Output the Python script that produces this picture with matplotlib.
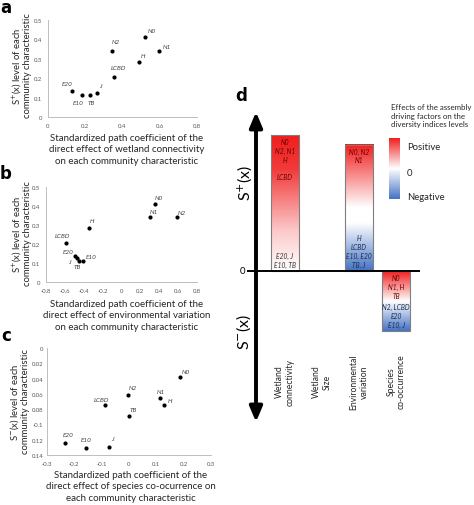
import numpy as np
import matplotlib
matplotlib.use("Agg")
import matplotlib.pyplot as plt
from matplotlib.colors import LinearSegmentedColormap

plt.rcParams['font.family'] = ['Lato', 'DejaVu Sans']

# ---------------- data ----------------
labels = ['N0', 'N1', 'N2', 'H', 'LCBD', 'E20', 'E10', 'TB', 'J']
s_plus = [0.413, 0.342, 0.341, 0.286, 0.207, 0.135, 0.113, 0.113, 0.124]
conn_coef = [0.521, 0.596, 0.344, 0.489, 0.354, 0.129, 0.183, 0.226, 0.263]
envvar_coef = [0.36, 0.30, 0.59, -0.34, -0.59, -0.49, -0.41, -0.455, -0.475]
s_minus = [0.038, 0.066, 0.061, 0.075, 0.075, 0.124, 0.131, 0.089, 0.129]
cooc_coef = [0.185, 0.113, -0.004, 0.129, -0.088, -0.234, -0.156, 0.0, -0.073]

ab_xticks = [0, 0.2, 0.4, 0.6, 0.8]
b_xticks = [-0.8, -0.6, -0.4, -0.2, 0, 0.2, 0.4, 0.6, 0.8]
ab_yticks = [0, 0.1, 0.2, 0.3, 0.4, 0.5]
c_xticks = [-0.3, -0.2, -0.1, 0, 0.1, 0.2, 0.3]
c_yticks = [0, 0.02, 0.04, 0.06, 0.08, 0.10, 0.12, 0.14]
c_yticklabels = ['0', '0.02', '0.04', '0.06', '0.08', '-0.1', '0.12', '0.14']

d_categories = ['Wetland\nconnectivity', 'Wetland\nSize', 'Environmental\nvariation', 'Species\nco-occurrence']
d_values = [1.0, 0.0, 0.93, -0.44]
d_top_text = ['N0\nN2, N1\nH\n\nLCBD', '', 'N0, N2\nN1', 'N0\nN1, H\nTB']
d_bottom_text = ['E20, J\nE10, TB', '', 'H\nLCBD\nE10, E20\nTB, J', 'N2, LCBD\nE20\nE10, J']

# --------------- layout helpers ---------------
W, H = 474, 506
fig = plt.figure(figsize=(W / 100, H / 100), dpi=100)


def fbox(l, t, r, b):
    return [l / W, 1 - b / H, (r - l) / W, (b - t) / H]


def fx(px):
    return px / W


def fy(py):
    return 1 - py / H


def fmt(v):
    if abs(v) < 1e-9:
        return '0'
    return ('%g' % v)


off_a = {'N0': (7, -6), 'N1': (8, -4), 'N2': (4, -9), 'H': (4, -6), 'LCBD': (4, -9),
         'E20': (-5, -7), 'E10': (-4, 7), 'TB': (1, 7), 'J': (3, -7)}
off_b = {'N0': (3, -6), 'N1': (4, -6), 'N2': (5, -5), 'H': (3, -7), 'LCBD': (-3, -7),
         'E20': (-7, -5), 'E10': (8, -4), 'TB': (-1, 6), 'J': (-7, 3)}
off_c = {'N0': (6, -6), 'N1': (1, -7), 'N2': (5, -7), 'H': (6, -5), 'LCBD': (-4, -6),
         'E20': (3, -8), 'E10': (0, -9), 'TB': (4, -7), 'J': (3, -8)}

tick_color = '#595959'
spine_color = '#bfbfbf'


def scatter_panel(box, xs, ys, offs, xticks, xlim, yticks, yticklabels, ylim, ypad=4):
    ax = fig.add_axes(fbox(*box))
    ax.scatter(xs, ys, s=9, color='black', zorder=3, linewidths=0)
    for lab, x, y in zip(labels, xs, ys):
        dx, dy = offs[lab]
        ax.annotate(lab, (x, y), xytext=(dx * 0.72, -dy * 0.72), textcoords='offset points',
                    ha='center', va='center', fontsize=4.6, style='italic', color='#404040')
    ax.set_xlim(*xlim)
    ax.set_ylim(*ylim)
    ax.set_xticks(xticks)
    ax.set_xticklabels([fmt(v) for v in xticks])
    ax.set_yticks(yticks)
    ax.set_yticklabels(yticklabels)
    ax.tick_params(length=0, labelsize=4.3, colors=tick_color, pad=4)
    ax.tick_params(axis='y', pad=ypad)
    for s in ['top', 'right']:
        ax.spines[s].set_visible(False)
    for s in ['left', 'bottom']:
        ax.spines[s].set_color(spine_color)
        ax.spines[s].set_linewidth(0.7)
    ax.patch.set_alpha(0)
    return ax


scatter_panel((48, 21, 197, 118), conn_coef, s_plus, off_a, ab_xticks, (0, 0.8),
              ab_yticks, [fmt(v) for v in ab_yticks], (0, 0.5))
scatter_panel((46, 188, 197, 283), envvar_coef, s_plus, off_b, b_xticks, (-0.8, 0.8),
              ab_yticks, [fmt(v) for v in ab_yticks], (0, 0.5))
scatter_panel((47, 349, 211, 456), cooc_coef, s_minus, off_c, c_xticks, (-0.3, 0.3),
              c_yticks, c_yticklabels, (0.14, 0), ypad=2.5)

lab_fs = 7
# y labels
fig.text(fx(21), fy(66), 'S$^{+}$(x) level of each\ncommunity characteristic', rotation=90,
         ha='center', va='center', fontsize=6.8, color='#262626', linespacing=1.0)
fig.text(fx(21), fy(234), 'S$^{+}$(x) level of each\ncommunity characteristic', rotation=90,
         ha='center', va='center', fontsize=6.8, color='#262626', linespacing=1.0)
fig.text(fx(19), fy(402), 'S$^{-}$(x) level of each\ncommunity characteristic', rotation=90,
         ha='center', va='center', fontsize=6.8, color='#262626', linespacing=1.0)
# x labels
fig.text(fx(127), fy(150), 'Standardized path coefficient of the\ndirect effect of wetland connectivity\non each community characteristic',
         ha='center', va='center', fontsize=lab_fs, color='#262626', linespacing=1.3)
fig.text(fx(127), fy(316), 'Standardized path coefficient of the\ndirect effect of environmental variation\non each community characteristic',
         ha='center', va='center', fontsize=lab_fs, color='#262626', linespacing=1.3)
fig.text(fx(131), fy(487), 'Standardized path coefficient of the\ndirect effect of species co-ocurrence on\neach community characteristic',
         ha='center', va='center', fontsize=lab_fs, color='#262626', linespacing=1.3)

# panel letters
for letter, (px, py) in zip('abcd', [(6, 8), (6, 174), (6, 336), (241, 96)]):
    fig.text(fx(px), fy(py), letter, ha='center', va='center', fontsize=12, fontweight='bold',
             family='DejaVu Sans')

# ---------------- panel d ----------------
axd = fig.add_axes(fbox(230, 80, 474, 506))
axd.axis('off')
x0px, step_px, zero_px, unit_px = 285, 37, 272, 136
axd.set_xlim((230 - x0px) / step_px, (474 - x0px) / step_px)
axd.set_ylim(-(506 - zero_px) / unit_px, (zero_px - 80) / unit_px)

red = '#f01e1e'
white = '#ffffff'
blue = '#4472c4'
cmaps = [
    LinearSegmentedColormap.from_list('c0', [(0, white), (0.3, '#fbc8c8'), (0.75, '#f23a3a'), (1, red)]),
    None,
    LinearSegmentedColormap.from_list('c2', [(0, blue), (0.38, white), (0.5, white), (1, red)]),
    LinearSegmentedColormap.from_list('c3', [(0, blue), (0.5, white), (1, red)]),
]
bar_w = 0.78
grad = np.linspace(0, 1, 256).reshape(-1, 1)
for i, (v, cm) in enumerate(zip(d_values, cmaps)):
    if v == 0:
        continue
    lo, hi = min(0, v), max(0, v)
    axd.imshow(grad, extent=[i - bar_w / 2, i + bar_w / 2, lo, hi], origin='lower',
               cmap=cm, aspect='auto', interpolation='bicubic', zorder=1)
    axd.bar(i, v, width=bar_w, fill=False, edgecolor='#7f7f7f', linewidth=0.8, zorder=2)
    top_col = '#6b0000'
    bot_col = '#333333' if i == 0 else '#1c2b4d'
    axd.annotate(d_top_text[i], (i, hi), xytext=(0, -2.2), textcoords='offset points',
                 ha='center', va='top', fontsize=4.8, style='italic', color=top_col,
                 linespacing=1.3, zorder=3)
    axd.annotate(d_bottom_text[i], (i, lo), xytext=(0, 2.2), textcoords='offset points',
                 ha='center', va='bottom', fontsize=4.8, style='italic', color=bot_col,
                 linespacing=1.3, zorder=3)

axd.set_autoscale_on(False)
# zero line
axd.plot([(247 - x0px) / step_px, (420 - x0px) / step_px], [0, 0], color='black', lw=1.4, zorder=4,
         solid_capstyle='butt')
# double arrow
ax_x = (256 - x0px) / step_px
axd.annotate('', xy=(ax_x, (zero_px - 113) / unit_px), xytext=(ax_x, -(423 - zero_px) / unit_px),
             arrowprops=dict(arrowstyle='<|-|>,head_length=0.9,head_width=0.38', lw=2.8,
                             color='black', mutation_scale=10, shrinkA=0, shrinkB=0), zorder=5)
axd.text((242 - x0px) / step_px, 0, '0', ha='center', va='center', fontsize=7)
axd.text((245 - x0px) / step_px, (zero_px - 183) / unit_px, 'S$^{+}$(x)', rotation=90,
         ha='center', va='center', fontsize=11.5)
axd.text((244 - x0px) / step_px, (zero_px - 332) / unit_px, 'S$^{-}$(x)', rotation=90,
         ha='center', va='center', fontsize=11.5)
for i, cat in enumerate(d_categories):
    axd.text(i, (zero_px - 382) / unit_px, cat, rotation=90, ha='center', va='center',
             multialignment='center', fontsize=6.2, color='#262626', linespacing=1.2)

# legend
axl = fig.add_axes(fbox(389, 139, 400, 200))
axl.imshow(grad, origin='lower', cmap=cmaps[3], aspect='auto', interpolation='bicubic')
axl.axis('off')
fig.text(fx(391), fy(116), 'Effects of the assembly\ndriving factors on the\ndiversity indices levels',
         ha='left', va='center', fontsize=5.7, color='#262626', linespacing=1.3)
fig.text(fx(407), fy(148), 'Positive', ha='left', va='center', fontsize=6.8, color='#262626')
fig.text(fx(407), fy(173), '0', ha='left', va='center', fontsize=6.8, color='#262626')
fig.text(fx(407), fy(198), 'Negative', ha='left', va='center', fontsize=6.8, color='#262626')

fig.savefig('out.png', dpi=100)
